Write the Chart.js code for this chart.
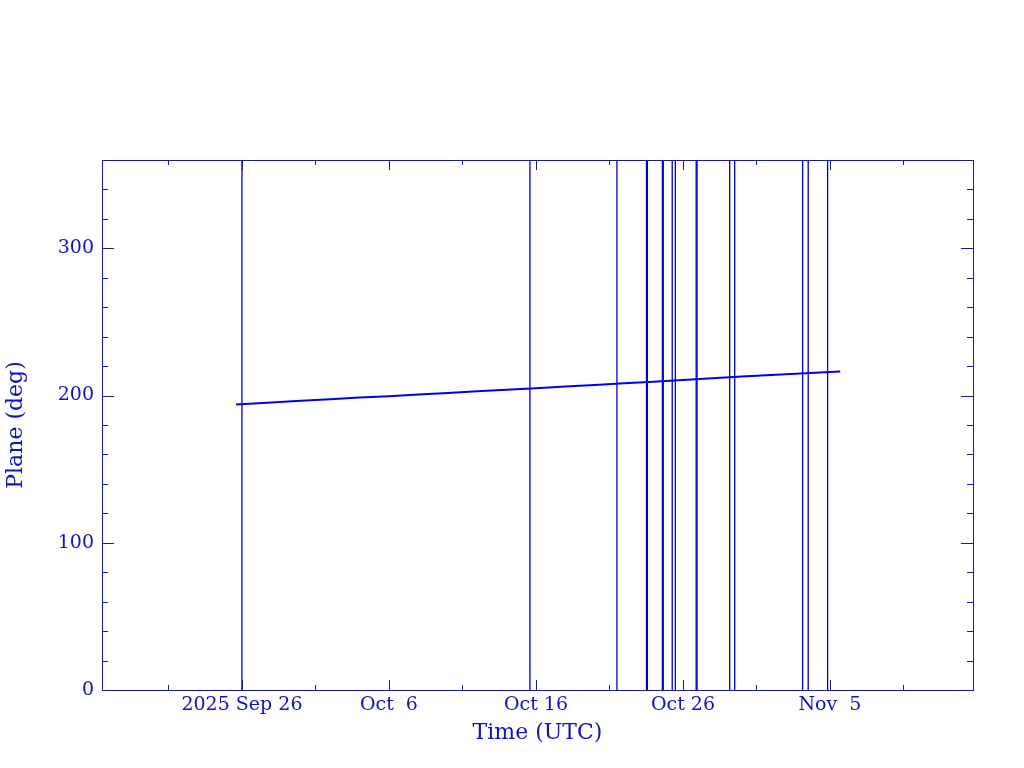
<!DOCTYPE html>
<html>
<head>
<meta charset="utf-8">
<script src="https://cdn.jsdelivr.net/npm/chart.js@4/dist/chart.umd.min.js"></script>
<style>
  html, body { margin: 0; padding: 0; background: #fff; }
  #wrap { width: 1024px; height: 768px; }
</style>
</head>
<body>
<div id="wrap"><canvas id="myChart" width="1024" height="768"></canvas></div>
<script>
// x values are days after 2025 Sep 26 00:00 UTC
const planeDays = [-0.4, 2, 4, 6, 8, 10, 12, 14, 16, 18, 20, 22, 24, 26, 28, 30, 32, 34, 36, 38, 40, 40.7];
const planeDeg = [194.0, 195.3, 196.4, 197.5, 198.6, 199.6, 200.7, 201.8, 202.9, 204.0, 205.0, 206.1, 207.2, 208.3, 209.4, 210.5, 211.7, 212.9, 214.0, 215.0, 216.0, 216.4];

// event markers (vertical lines)
const eventDays = [0.0, 19.59, 25.51, 27.52, 27.58, 28.60, 28.66, 29.27, 29.48, 30.90, 30.96, 33.18, 33.52, 38.14, 38.52, 39.84];

const xMajorDays = [0, 10, 20, 30, 40];
const xTickLabels = ['2025 Sep 26', 'Oct  6', 'Oct 16', 'Oct 26', 'Nov  5'];
const xMinorDays = [-5, 5, 15, 25, 35, 45];
const yMajor = [0, 100, 200, 300];
const yMinor = [20, 40, 60, 80, 120, 140, 160, 180, 220, 240, 260, 280, 320, 340];

const frameColor = '#1a1a98';
const textColor = '#1212c0';

const datasets = [{
    label: 'Plane',
    data: planeDays.map((d, i) => ({ x: d, y: planeDeg[i] })),
    borderColor: '#0000ee',
    borderWidth: 2,
    pointRadius: 0,
    tension: 0
}];
eventDays.forEach(function (d) {
    datasets.push({
        data: [{ x: d, y: 0 }, { x: d, y: 360 }],
        borderColor: '#0000cc',
        borderWidth: 1.3,
        pointRadius: 0
    });
});

const frameTicks = {
    id: 'frameTicks',
    afterDatasetsDraw(chart) {
        const ctx = chart.ctx;
        const a = chart.chartArea;
        const xs = chart.scales.x, ys = chart.scales.y;
        ctx.save();
        ctx.strokeStyle = frameColor;
        ctx.lineWidth = 1;
        ctx.strokeRect(a.left + 0.5, a.top + 0.5, a.right - a.left, a.bottom - a.top);
        ctx.beginPath();
        const xt = function (vals, len) {
            vals.forEach(function (v) {
                const p = Math.round(xs.getPixelForValue(v)) + 0.5;
                ctx.moveTo(p, a.bottom); ctx.lineTo(p, a.bottom - len);
                ctx.moveTo(p, a.top); ctx.lineTo(p, a.top + len);
            });
        };
        const yt = function (vals, len) {
            vals.forEach(function (v) {
                const p = Math.round(ys.getPixelForValue(v)) + 0.5;
                ctx.moveTo(a.left, p); ctx.lineTo(a.left + len, p);
                ctx.moveTo(a.right, p); ctx.lineTo(a.right - len, p);
            });
        };
        xt(xMajorDays, 10);
        xt(xMinorDays, 5);
        yt(yMajor, 12);
        yt(yMinor, 6);
        ctx.stroke();
        ctx.restore();
    }
};

const ctx = document.getElementById('myChart').getContext('2d');
new Chart(ctx, {
    type: 'line',
    data: { datasets: datasets },
    options: {
        responsive: false,
        animation: false,
        layout: { padding: { top: 160, right: 51, left: 0, bottom: 0 } },
        plugins: { legend: { display: false }, tooltip: { enabled: false } },
        scales: {
            x: {
                type: 'linear',
                min: -9.52,
                max: 49.73,
                afterFit: function (s) { s.height = 78; },
                afterBuildTicks: function (s) {
                    s.ticks = xMajorDays.map(v => ({ value: v }));
                },
                grid: { display: false, drawTicks: false },
                border: { display: false },
                ticks: {
                    color: textColor,
                    font: { family: 'DejaVu Serif', size: 19 },
                    padding: 4,
                    maxRotation: 0,
                    autoSkip: false,
                    callback: function (v) {
                        const i = xMajorDays.indexOf(v);
                        return i >= 0 ? xTickLabels[i] : '';
                    }
                },
                title: {
                    display: true,
                    text: 'Time (UTC)',
                    color: textColor,
                    font: { family: 'DejaVu Serif', size: 22 },
                    padding: { top: 4, bottom: 22 }
                }
            },
            y: {
                min: 0,
                max: 360,
                afterFit: function (s) { s.width = 102; },
                afterBuildTicks: function (s) {
                    s.ticks = yMajor.map(v => ({ value: v }));
                },
                grid: { display: false, drawTicks: false },
                border: { display: false },
                ticks: {
                    color: textColor,
                    font: { family: 'DejaVu Serif', size: 19 },
                    padding: 8
                },
                title: {
                    display: true,
                    text: 'Plane (deg)',
                    color: textColor,
                    font: { family: 'DejaVu Serif', size: 22 },
                    padding: { top: 3, bottom: 0 }
                }
            }
        }
    },
    plugins: [frameTicks]
});
</script>
</body>
</html>
